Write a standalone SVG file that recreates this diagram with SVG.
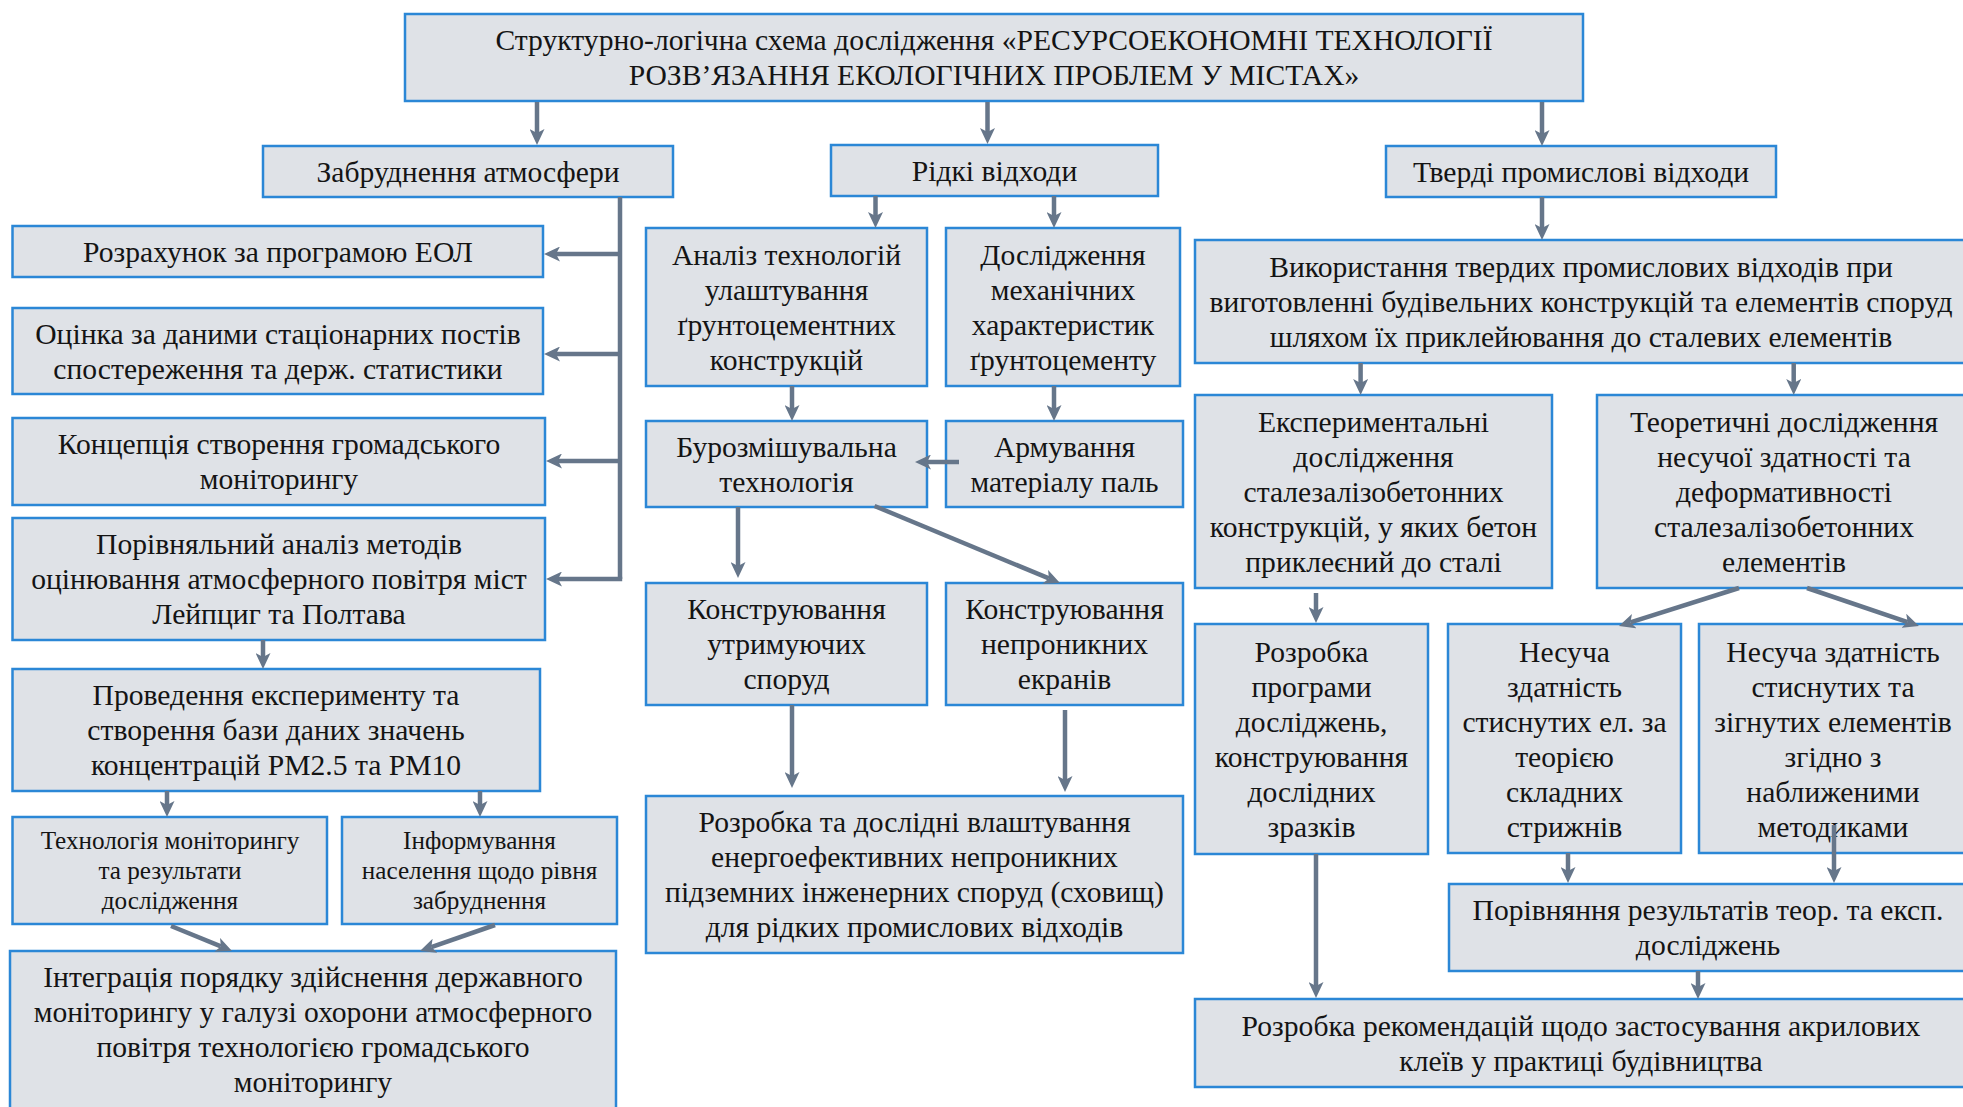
<svg xmlns="http://www.w3.org/2000/svg" width="1963" height="1107" viewBox="0 0 1963 1107">
<style>
.b{fill:#dfe2e7;stroke:#2b87d6;stroke-width:2.5}
.t{font-family:"Liberation Serif","Times New Roman",serif;font-size:29.6px;fill:#141414;text-anchor:middle}
.s{font-size:25.2px}
.c{fill:none;stroke:#66768a;stroke-width:4.5;marker-end:url(#ah)}
.n{fill:none;stroke:#66768a;stroke-width:4.5}
</style>
<defs>
<marker id="ah" markerUnits="userSpaceOnUse" viewBox="0 0 16 15" refX="4" refY="7.5" markerWidth="16" markerHeight="15" orient="auto">
<path d="M0,0 L16,7.5 L0,15 L4,7.5 z" fill="#66768a"/>
</marker>
</defs>
<rect width="1963" height="1107" fill="#ffffff"/>

<g id="title"><rect class="b" x="405" y="14" width="1178" height="87"/>
<text class="t"><tspan x="994" y="50">Структурно-логічна схема дослідження «РЕСУРСОЕКОНОМНІ ТЕХНОЛОГІЇ</tspan><tspan x="994" y="85">РОЗВ’ЯЗАННЯ ЕКОЛОГІЧНИХ ПРОБЛЕМ У МІСТАХ»</tspan></text></g>

<g id="atm"><rect class="b" x="263" y="146" width="410" height="51"/>
<text class="t"><tspan x="468" y="181.5">Забруднення атмосфери</tspan></text></g>

<g id="liquid"><rect class="b" x="831" y="145" width="327" height="51"/>
<text class="t"><tspan x="994.5" y="180.5">Рідкі відходи</tspan></text></g>

<g id="solid"><rect class="b" x="1386" y="146" width="390" height="51"/>
<text class="t"><tspan x="1581" y="181.5">Тверді промислові відходи</tspan></text></g>

<g id="eol"><rect class="b" x="12.5" y="226" width="530.5" height="51"/>
<text class="t"><tspan x="278" y="261.5">Розрахунок за програмою ЕОЛ</tspan></text></g>

<g id="posts"><rect class="b" x="12.5" y="308" width="530.5" height="86"/>
<text class="t"><tspan x="278" y="343.5">Оцінка за даними стаціонарних постів</tspan><tspan x="278" y="378.5">спостереження та держ. статистики</tspan></text></g>

<g id="concept"><rect class="b" x="12.5" y="418" width="532.5" height="87"/>
<text class="t"><tspan x="279" y="454">Концепція створення громадського</tspan><tspan x="279" y="489">моніторингу</tspan></text></g>

<g id="compare"><rect class="b" x="12.5" y="518" width="532.5" height="122"/>
<text class="t"><tspan x="279" y="554">Порівняльний аналіз методів</tspan><tspan x="279" y="589">оцінювання атмосферного повітря міст</tspan><tspan x="279" y="624">Лейпциг та Полтава</tspan></text></g>

<g id="experiment"><rect class="b" x="12.5" y="669" width="527.5" height="122"/>
<text class="t"><tspan x="276" y="705">Проведення експерименту та</tspan><tspan x="276" y="740">створення бази даних значень</tspan><tspan x="276" y="775">концентрацій PM2.5 та PM10</tspan></text></g>

<g id="montech"><rect class="b" x="12.5" y="817" width="314.5" height="107"/>
<text class="t s"><tspan x="170" y="849">Технологія моніторингу</tspan><tspan x="170" y="879">та результати</tspan><tspan x="170" y="909">дослідження</tspan></text></g>

<g id="inform"><rect class="b" x="342" y="817" width="275" height="107"/>
<text class="t s"><tspan x="479.5" y="849">Інформування</tspan><tspan x="479.5" y="879">населення щодо рівня</tspan><tspan x="479.5" y="909">забруднення</tspan></text></g>

<g id="integr"><rect class="b" x="10" y="951" width="606" height="170"/>
<text class="t"><tspan x="313" y="987">Інтеграція порядку здійснення державного</tspan><tspan x="313" y="1022">моніторингу у галузі охорони атмосферного</tspan><tspan x="313" y="1057">повітря технологією громадського</tspan><tspan x="313" y="1092">моніторингу</tspan></text></g>

<g id="analysis"><rect class="b" x="646" y="228" width="281" height="158"/>
<text class="t"><tspan x="786.5" y="264.5">Аналіз технологій</tspan><tspan x="786.5" y="299.5">улаштування</tspan><tspan x="786.5" y="334.5">ґрунтоцементних</tspan><tspan x="786.5" y="369.5">конструкцій</tspan></text></g>

<g id="mech"><rect class="b" x="946" y="228" width="234" height="158"/>
<text class="t"><tspan x="1063" y="264.5">Дослідження</tspan><tspan x="1063" y="299.5">механічних</tspan><tspan x="1063" y="334.5">характеристик</tspan><tspan x="1063" y="369.5">ґрунтоцементу</tspan></text></g>

<g id="drill"><rect class="b" x="646" y="421" width="281" height="86"/>
<text class="t"><tspan x="786.5" y="456.5">Бурозмішувальна</tspan><tspan x="786.5" y="491.5">технологія</tspan></text></g>

<g id="reinf"><rect class="b" x="946" y="421" width="237" height="86"/>
<text class="t"><tspan x="1064.5" y="456.5">Армування</tspan><tspan x="1064.5" y="491.5">матеріалу паль</tspan></text></g>

<g id="retain"><rect class="b" x="646" y="583" width="281" height="122"/>
<text class="t"><tspan x="786.5" y="619">Конструювання</tspan><tspan x="786.5" y="654">утримуючих</tspan><tspan x="786.5" y="689">споруд</tspan></text></g>

<g id="screens"><rect class="b" x="946" y="583" width="237" height="122"/>
<text class="t"><tspan x="1064.5" y="619">Конструювання</tspan><tspan x="1064.5" y="654">непроникних</tspan><tspan x="1064.5" y="689">екранів</tspan></text></g>

<g id="storage"><rect class="b" x="646" y="796" width="537" height="157"/>
<text class="t"><tspan x="914.5" y="832">Розробка та дослідні влаштування</tspan><tspan x="914.5" y="867">енергоефективних непроникних</tspan><tspan x="914.5" y="902">підземних інженерних споруд (сховищ)</tspan><tspan x="914.5" y="937">для рідких промислових відходів</tspan></text></g>

<g id="usage"><rect class="b" x="1195" y="240" width="772" height="123"/>
<text class="t"><tspan x="1581" y="276.5">Використання твердих промислових відходів при</tspan><tspan x="1581" y="311.5">виготовленні будівельних конструкцій та елементів споруд</tspan><tspan x="1581" y="346.5">шляхом їх приклейювання до сталевих елементів</tspan></text></g>

<g id="exper"><rect class="b" x="1195" y="395" width="357" height="193"/>
<text class="t"><tspan x="1373.5" y="431.5">Експериментальні</tspan><tspan x="1373.5" y="466.5">дослідження</tspan><tspan x="1373.5" y="501.5">сталезалізобетонних</tspan><tspan x="1373.5" y="536.5">конструкцій, у яких бетон</tspan><tspan x="1373.5" y="571.5">приклеєний до сталі</tspan></text></g>

<g id="theor"><rect class="b" x="1597" y="395" width="374" height="193"/>
<text class="t"><tspan x="1784" y="431.5">Теоретичні дослідження</tspan><tspan x="1784" y="466.5">несучої здатності та</tspan><tspan x="1784" y="501.5">деформативності</tspan><tspan x="1784" y="536.5">сталезалізобетонних</tspan><tspan x="1784" y="571.5">елементів</tspan></text></g>

<g id="program"><rect class="b" x="1195" y="624" width="233" height="230"/>
<text class="t"><tspan x="1311.5" y="661.5">Розробка</tspan><tspan x="1311.5" y="696.5">програми</tspan><tspan x="1311.5" y="731.5">досліджень,</tspan><tspan x="1311.5" y="766.5">конструювання</tspan><tspan x="1311.5" y="801.5">дослідних</tspan><tspan x="1311.5" y="836.5">зразків</tspan></text></g>

<g id="bearing1"><rect class="b" x="1448" y="624" width="233" height="229"/>
<text class="t"><tspan x="1564.5" y="661.5">Несуча</tspan><tspan x="1564.5" y="696.5">здатність</tspan><tspan x="1564.5" y="731.5">стиснутих ел. за</tspan><tspan x="1564.5" y="766.5">теорією</tspan><tspan x="1564.5" y="801.5">складних</tspan><tspan x="1564.5" y="836.5">стрижнів</tspan></text></g>

<g id="bearing2"><rect class="b" x="1699" y="624" width="268" height="229"/>
<text class="t"><tspan x="1833" y="661.5">Несуча здатність</tspan><tspan x="1833" y="696.5">стиснутих та</tspan><tspan x="1833" y="731.5">зігнутих елементів</tspan><tspan x="1833" y="766.5">згідно з</tspan><tspan x="1833" y="801.5">наближеними</tspan><tspan x="1833" y="836.5">методиками</tspan></text></g>

<g id="comparison"><rect class="b" x="1449" y="884" width="518" height="87"/>
<text class="t"><tspan x="1708" y="920">Порівняння результатів теор. та експ.</tspan><tspan x="1708" y="955">досліджень</tspan></text></g>

<g id="recommend"><rect class="b" x="1195" y="999" width="772" height="88"/>
<text class="t"><tspan x="1581" y="1035.5">Розробка рекомендацій щодо застосування акрилових</tspan><tspan x="1581" y="1070.5">клеїв у практиці будівництва</tspan></text></g>

<g id="connectors">
<path class="c" d="M537,102 V133"/>
<path class="c" d="M987.5,102 V132"/>
<path class="c" d="M1542,102 V134"/>
<path class="n" d="M620,197 V579"/>
<path class="c" d="M620,254 H556"/>
<path class="c" d="M620,354 H556"/>
<path class="c" d="M620,461 H558"/>
<path class="c" d="M622.2,579 H558"/>
<path class="c" d="M263,640 V657"/>
<path class="c" d="M167,791 V805"/>
<path class="c" d="M480,791 V805"/>
<path class="c" d="M171,926 L220.9,946.4"/>
<path class="c" d="M495,925 L431.3,947.1"/>
<path class="c" d="M875.5,196 V216"/>
<path class="c" d="M1054,196 V216"/>
<path class="c" d="M792,386 V409"/>
<path class="c" d="M1054,386 V409"/>
<path class="c" d="M959,462 H927"/>
<path class="c" d="M738,507 V566"/>
<path class="c" d="M874.5,506 L1048.9,578.4"/>
<path class="c" d="M792,705 V776"/>
<path class="c" d="M1065,710 V780"/>
<path class="c" d="M1542,197 V228"/>
<path class="c" d="M1360.6,363 V383"/>
<path class="c" d="M1793.7,363 V383"/>
<path class="c" d="M1316,593 V611"/>
<path class="c" d="M1739,588 L1630.4,622.4"/>
<path class="c" d="M1807,588 L1907.6,622.1"/>
<path class="c" d="M1316,854 V986"/>
<path class="c" d="M1568,853 V871"/>
<path class="c" d="M1834,825 V871"/>
<path class="c" d="M1698,971 V987"/>
</g>
</svg>
